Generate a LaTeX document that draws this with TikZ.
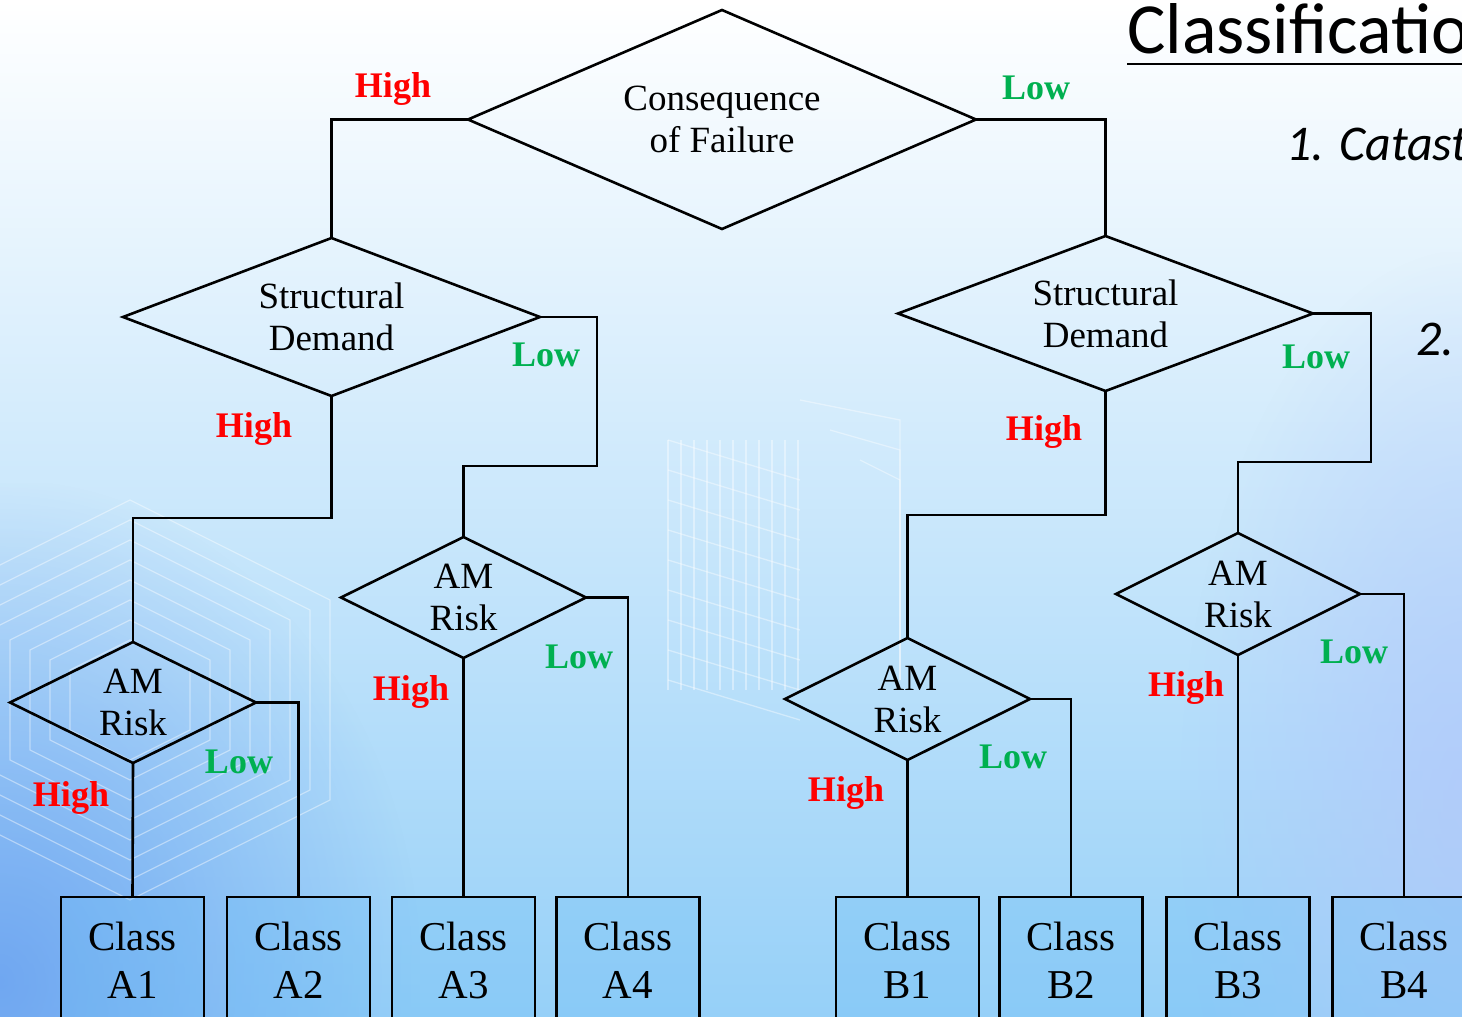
\documentclass[tikz,border=0pt]{standalone}
\usepackage{fontspec}
\setmainfont{Liberation Serif}
\newfontfamily\slidefont{Carlito}
\usetikzlibrary{shapes.geometric,fadings}

\definecolor{hicol}{RGB}{255,0,0}
\definecolor{locol}{RGB}{0,176,80}
\definecolor{bgmid}{RGB}{218,238,252}
\definecolor{bgbot}{RGB}{150,208,248}
\definecolor{bgleft}{RGB}{105,160,240}
\definecolor{bgright}{RGB}{178,200,250}
\definecolor{boxfill}{RGB}{110,190,245}

\tikzfading[name=softspot, inner color=transparent!0, outer color=transparent!100]
\tikzfading[name=softband, top color=transparent!100, middle color=transparent!40, bottom color=transparent!100]

\begin{document}
\begin{tikzpicture}[x=1pt,y=-1pt,
  dia/.style={draw=black, line width=2.6pt, diamond, inner sep=0pt, outer sep=0pt},
  dtext/.style={font=\fontsize{37}{42}\selectfont, align=center, inner sep=0pt},
  cls/.style={draw=black, line width=2.6pt, rectangle, fill=boxfill, fill opacity=0.3,
    text opacity=1, minimum width=143pt, minimum height=126pt, inner sep=0pt,
    outer sep=0pt, anchor=north, align=center, font=\fontsize{41}{48}\selectfont},
  wire/.style={draw=black, line width=2.6pt},
  hi/.style={text=hicol, font=\bfseries\fontsize{36}{40}\selectfont, inner sep=0pt},
  lo/.style={text=locol, font=\bfseries\fontsize{36}{40}\selectfont, inner sep=0pt},
  deco/.style={draw=white, line width=1.3pt, opacity=0.4}
]
\useasboundingbox (0,0) rectangle (1462,1017);
\clip (0,0) rectangle (1462,1017);

% ---- slide background ----
\shade[top color=white, middle color=bgmid, bottom color=bgbot] (0,0) rectangle (1462,1017);
\fill[bgleft, opacity=0.85, path fading=softspot] (-420,480) rectangle (420,1480);
\fill[bgright, opacity=0.8, path fading=softspot] (1180,250) rectangle (1760,1350);
% soft light streak
\begin{scope}[shift={(380,570)}, rotate=-21]
  \fill[white, opacity=0.6, path fading=softband] (-520,-40) rectangle (520,40);
\end{scope}
\begin{scope}[shift={(640,720)}, rotate=35]
  \fill[white, opacity=0.45, path fading=softband] (-300,-35) rectangle (300,35);
\end{scope}
% building grid
\foreach \x in {668,681,...,800} \draw[deco] (\x,440) -- (\x,690);
\foreach \y in {440,470,...,680} \draw[deco] (668,\y) -- (800,\y+40);
\foreach \d in {0,30,60} \draw[deco] (800+\d,400+\d) -- (900,420+\d) -- (900,680);
% nested hexagon outlines
\foreach \r in {60,80,...,200}
  \draw[deco] (130-\r,700-0.5*\r) -- (130,700-\r) -- (130+\r,700-0.5*\r)
    -- (130+\r,700+0.5*\r) -- (130,700+\r) -- (130-\r,700+0.5*\r) -- cycle;

% ---- slide heading ----
\node[anchor=base west, inner sep=0pt, font=\slidefont\fontsize{72}{80}\selectfont] (title) at (1127,53) {Classification};
\draw[line width=2.8pt] ([yshift=-11pt]title.base west) -- ([yshift=-11pt]title.base east);
\node[anchor=base west, inner sep=0pt, font=\slidefont\itshape\fontsize{50}{60}\selectfont] (item1) at (1286,160) {1. Catastrophic};
\node[anchor=base west, inner sep=0pt, font=\slidefont\itshape\fontsize{50}{60}\selectfont] (item2) at (1416,355) {2.};

% ---- decision nodes ----
\node[dia, minimum width=508pt, minimum height=219pt] (cof) at (722,119.5) {};
\node[dtext] (cofT) at (cof.center) {Consequence\\of Failure};

\node[dia, minimum width=417pt, minimum height=158pt] (sdL) at (331.5,317) {};
\node[dtext] (sdLT) at (sdL.center) {Structural\\Demand};
\node[dia, minimum width=415pt, minimum height=155pt] (sdR) at (1105.5,313.5) {};
\node[dtext] (sdRT) at (sdR.center) {Structural\\Demand};

\node[dia, minimum width=246pt, minimum height=121pt] (amA) at (133,702.5) {};
\node[dtext] (amAT) at (amA.center) {AM\\Risk};
\node[dia, minimum width=245pt, minimum height=121pt] (amB) at (463.5,597.5) {};
\node[dtext] (amBT) at (amB.center) {AM\\Risk};
\node[dia, minimum width=245pt, minimum height=122pt] (amC) at (907.5,699) {};
\node[dtext] (amCT) at (amC.center) {AM\\Risk};
\node[dia, minimum width=244pt, minimum height=122pt] (amD) at (1238,594) {};
\node[dtext] (amDT) at (amD.center) {AM\\Risk};

% ---- class boxes ----
\node[cls] (A1) at (132.5,897) {Class\\A1};
\node[cls] (A2) at (298.5,897) {Class\\A2};
\node[cls] (A3) at (463.5,897) {Class\\A3};
\node[cls] (A4) at (628,897) {Class\\A4};
\node[cls] (B1) at (907.5,897) {Class\\B1};
\node[cls] (B2) at (1071,897) {Class\\B2};
\node[cls] (B3) at (1238,897) {Class\\B3};
\node[cls] (B4) at (1404,897) {Class\\B4};

% ---- bend points ----
\coordinate (kLlow) at (597,466);
\coordinate (kLhigh) at (133,518);
\coordinate (kRlow) at (1371,462);
\coordinate (kRhigh) at (907.5,515);

% ---- connectors ----
\draw[wire] (cof.west) -| (sdL.north);
\draw[wire] (cof.east) -| (sdR.north);

\draw[wire] (sdL.east) -| (kLlow) -| (amB.north);
\draw[wire] (sdL.south) |- (kLhigh) -- (amA.north);
\draw[wire] (sdR.east) -| (kRlow) -| (amD.north);
\draw[wire] (sdR.south) |- (kRhigh) -- (amC.north);

\draw[wire] (amA.south) -- (A1.north);
\draw[wire] (amA.east) -| (A2.north);
\draw[wire] (amB.south) -- (A3.north);
\draw[wire] (amB.east) -| (A4.north);
\draw[wire] (amC.south) -- (B1.north);
\draw[wire] (amC.east) -| (B2.north);
\draw[wire] (amD.south) -- (B3.north);
\draw[wire] (amD.east) -| (B4.north);

% ---- branch labels ----
\node[hi] (h0) at (393,89) {High};
\node[lo] (l0) at (1036,88) {Low};
\node[lo] (l1) at (546,355) {Low};
\node[hi] (h1) at (254,429) {High};
\node[lo] (l2) at (1316,357) {Low};
\node[hi] (h2) at (1044,432) {High};
\node[hi] (h3) at (71,798) {High};
\node[lo] (l3) at (239,762) {Low};
\node[hi] (h4) at (411,692) {High};
\node[lo] (l4) at (579,657) {Low};
\node[hi] (h5) at (846,793) {High};
\node[lo] (l5) at (1013,757) {Low};
\node[hi] (h6) at (1186,688) {High};
\node[lo] (l6) at (1354,652) {Low};
\end{tikzpicture}
\end{document}
